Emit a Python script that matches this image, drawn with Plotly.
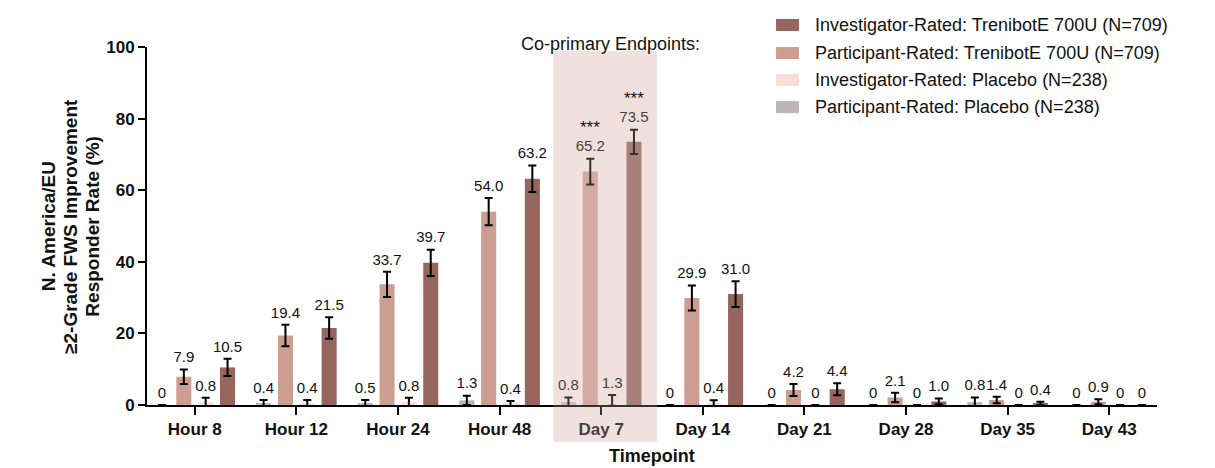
import plotly.graph_objects as go

categories = ["Hour 8", "Hour 12", "Hour 24", "Hour 48", "Day 7",
              "Day 14", "Day 21", "Day 28", "Day 35", "Day 43"]

# Participant-Rated: Placebo
pp_vals = [0, 0.4, 0.5, 1.3, 0.8, 0, 0, 0, 0.8, 0]
pp_err = [0, 1.0, 0.9, 1.3, 1.3, 0, 0, 0, 1.3, 0]
# Participant-Rated: TrenibotE 700U
pt_vals = [7.9, 19.4, 33.7, 54.0, 65.2, 29.9, 4.2, 2.1, 1.4, 0.9]
pt_err = [2.0, 3.0, 3.5, 3.8, 3.6, 3.5, 1.7, 1.3, 0.9, 0.7]
# Investigator-Rated: Placebo
ip_vals = [0.8, 0.4, 0.8, 0.4, 1.3, 0.4, 0, 0, 0, 0]
ip_err = [1.2, 1.0, 1.2, 0.7, 1.5, 0.9, 0, 0, 0, 0]
# Investigator-Rated: TrenibotE 700U
it_vals = [10.5, 21.5, 39.7, 63.2, 73.5, 31.0, 4.4, 1.0, 0.4, 0]
it_err = [2.4, 3.0, 3.7, 3.7, 3.4, 3.6, 1.7, 0.8, 0.5, 0]

pt_sig = ["", "", "", "", "***", "", "", "", "", ""]
it_sig = ["", "", "", "", "***", "", "", "", "", ""]

series_names = ["Participant-Rated: Placebo (N=238)",
                "Participant-Rated: TrenibotE 700U (N=709)",
                "Investigator-Rated: Placebo (N=238)",
                "Investigator-Rated: TrenibotE 700U (N=709)"]
legend_order = [3, 1, 2, 0]
highlight = "Day 7"
highlight_text = "Co-primary Endpoints:"
x_title = "Timepoint"
y_title_lines = ["N. America/EU", "≥2-Grade FWS Improvement", "Responder Rate (%)"]

colors = ["#BBB5B5", "#CC9D91", "#F6DFD7", "#96655D"]
FONT = "Liberation Sans, Arial, sans-serif"

series = [(pp_vals, pp_err, None), (pt_vals, pt_err, pt_sig),
          (ip_vals, ip_err, None), (it_vals, it_err, it_sig)]

slot = 0.215
bar_w = 0.148
xmin, xmax = -0.47, 9.47

fig = go.Figure()
annotations = []
for k, (vals, errs, sig) in enumerate(series):
    xs = [i + (k - 1.5) * slot for i in range(len(categories))]
    fig.add_trace(go.Bar(
        x=xs, y=vals, width=bar_w, name=series_names[k],
        marker=dict(color=colors[k], line=dict(width=0)),
        error_y=dict(type="data", array=errs, color="black", thickness=2, width=4),
        showlegend=False))
    tops = [v + e for v, e in zip(vals, errs)]
    labels = ["0" if v == 0 else f"{v:.1f}" for v in vals]
    fig.add_trace(go.Scatter(
        x=xs, y=tops, mode="markers+text", text=labels, textposition="top center",
        textfont=dict(family=FONT, size=15, color="#111111"),
        marker=dict(size=4, color="rgba(0,0,0,0)", line=dict(width=0)),
        showlegend=False, cliponaxis=False, hoverinfo="skip"))
    if sig:
        for x, t, s in zip(xs, tops, sig):
            if s:
                annotations.append(dict(x=x, y=t, xref="x", yref="y", text=s,
                                        showarrow=False, yanchor="bottom", yshift=20,
                                        font=dict(family=FONT, size=17, color="#111111")))

# highlight region
hi = categories.index(highlight)
span = xmax - xmin
hx0 = (hi - 0.47 - xmin) / span
hx1 = (hi + 0.55 - xmin) / span
shapes = [
    dict(type="rect", xref="paper", yref="paper", x0=hx0, x1=hx1, y0=-0.103, y1=0.989,
         fillcolor="#F0E1DE", line=dict(width=0), layer="below"),
    dict(type="rect", xref="paper", yref="paper", x0=hx0, x1=hx1, y0=-0.103, y1=0.989,
         fillcolor="rgba(240,225,222,0.22)", line=dict(width=0), layer="above"),
]
annotations.append(dict(x=(hx0 + hx1) / 2 + 0.005, y=1.042, xref="paper", yref="paper",
                        text=highlight_text, showarrow=False,
                        font=dict(family=FONT, size=18, color="#111111")))

# custom legend
leg_y = [1.0615, 0.983, 0.908, 0.832]
for row, k in enumerate(legend_order):
    y = leg_y[row]
    shapes.append(dict(type="rect", xref="paper", yref="paper",
                       x0=0.6228, x1=0.6455, y0=y - 0.0168, y1=y + 0.0168,
                       fillcolor=colors[k], line=dict(width=0)))
    annotations.append(dict(x=0.6594, y=y, xref="paper", yref="paper",
                            text=series_names[k], showarrow=False,
                            xanchor="left", yanchor="middle",
                            font=dict(family=FONT, size=18, color="#111111")))

# axis titles (y title as three tightly spaced lines)
for j, line in enumerate(y_title_lines):
    annotations.append(dict(x=-0.0978 + j * 0.0215, y=0.5, xref="paper", yref="paper",
                            text=line, textangle=-90, showarrow=False,
                            xanchor="center", yanchor="middle",
                            font=dict(family=FONT, size=19, color="#111111", weight="bold")))
annotations.append(dict(x=0.5, y=-0.1425, xref="paper", yref="paper",
                        text=x_title, showarrow=False,
                        xanchor="center", yanchor="middle",
                        font=dict(family=FONT, size=18, color="#111111", weight="bold")))

fig.update_layout(
    width=1215, height=468,
    margin=dict(l=147, r=58, t=47, b=63),
    plot_bgcolor="white", paper_bgcolor="white",
    barmode="overlay",
    font=dict(family=FONT, color="#111111"),
    shapes=shapes, annotations=annotations,
    showlegend=False,
    xaxis=dict(range=[xmin, xmax], tickvals=list(range(len(categories))),
               ticktext=categories, ticks="outside", ticklen=8, tickwidth=2,
               tickcolor="black", showline=True, linewidth=2, linecolor="black",
               showgrid=False, zeroline=False, automargin=False,
               tickfont=dict(family=FONT, size=17, weight="bold", color="#111111")),
    yaxis=dict(range=[0, 100], tickvals=[0, 20, 40, 60, 80, 100], ticks="outside",
               ticklen=7, tickwidth=2, tickcolor="black", showline=True, linewidth=2,
               linecolor="black", showgrid=False, zeroline=False, automargin=False,
               tickfont=dict(family=FONT, size=17, weight="bold", color="#111111")),
)

fig.write_html("out.html", config={"displayModeBar": False},
               post_script="document.body.style.margin='0px';")
